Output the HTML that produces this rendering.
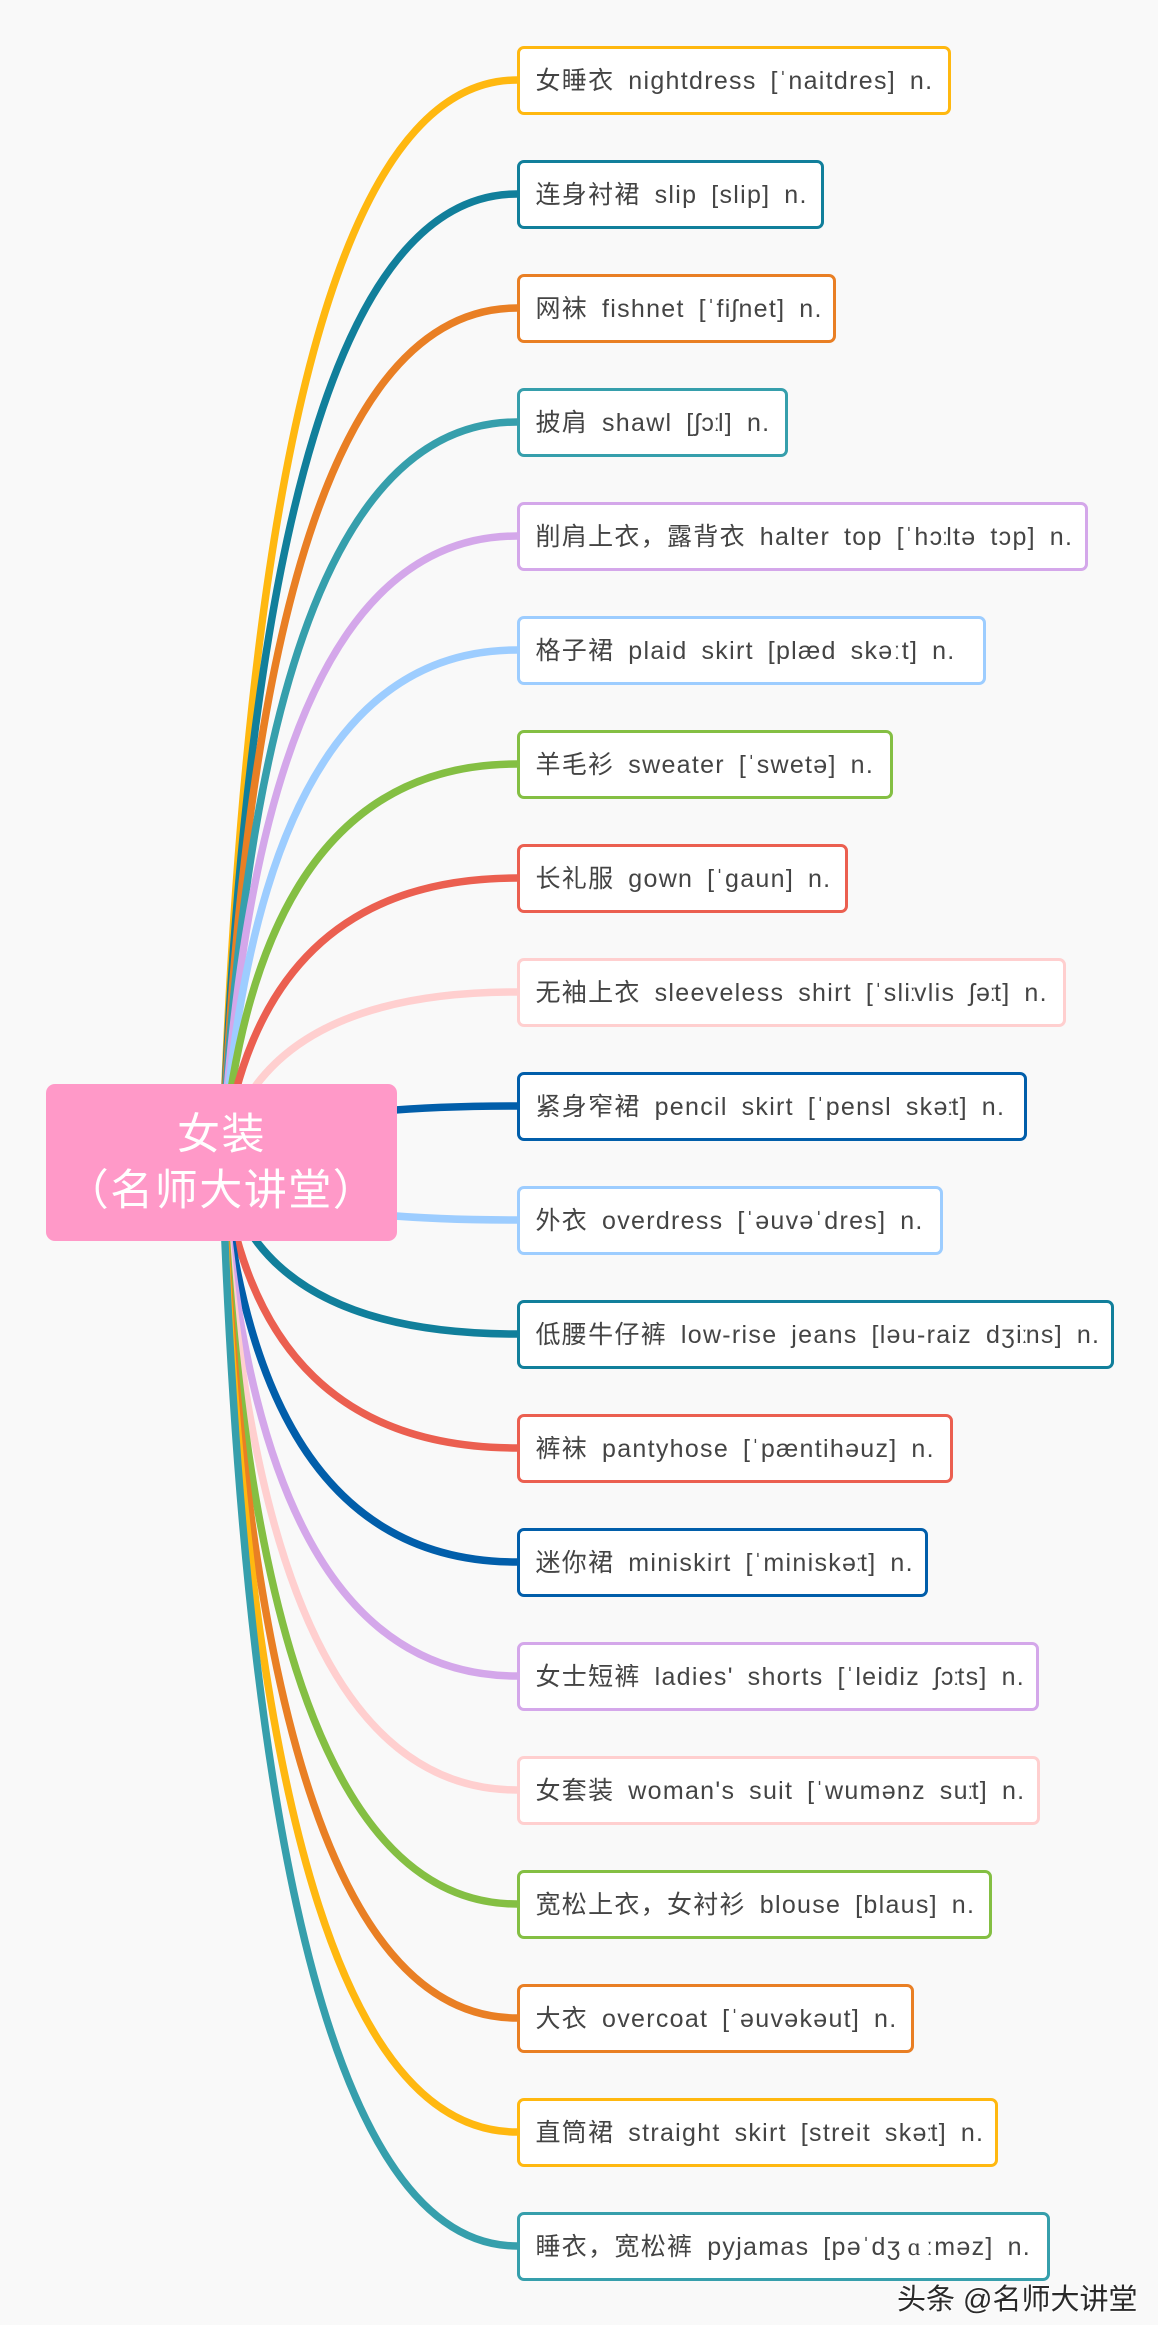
<!DOCTYPE html>
<html><head><meta charset="utf-8">
<style>
html,body{margin:0;padding:0;background:#fff;}
#page{position:relative;width:1165px;height:2340px;overflow:hidden;background:#fff;font-family:"Liberation Sans","Noto Sans CJK SC",sans-serif;}
#bg{position:absolute;left:0;top:0;width:1158px;height:2325px;background:#f9f9f9;}
svg{position:absolute;left:0;top:0;}
.b{position:absolute;left:517px;height:69px;box-sizing:border-box;border:3px solid;border-radius:7px;background:#fff;color:#444;font-size:25px;letter-spacing:1.3px;word-spacing:-1.3px;line-height:65px;padding-left:15.5px;white-space:pre;overflow:hidden;}
.a{font-family:"Liberation Serif",serif;margin:0 4px 0 6px;}
.c{margin-left:-2px;margin-right:-3.5px;}
#root{position:absolute;left:46px;top:1084px;width:351px;height:157px;background:#ff99c8;border-radius:9px;color:#fff;font-size:43px;letter-spacing:1.5px;line-height:56px;text-align:center;box-sizing:border-box;padding-top:23px;}
#wm{position:absolute;left:897px;top:2280px;font-size:29px;line-height:40px;color:#2a2a2a;white-space:pre;text-shadow:1px 1px 0 #fff,-1px -1px 0 #fff;}
</style></head><body>
<div id="page">
<div id="bg"></div>
<svg width="1165" height="2340" fill="none" stroke-width="7.5">
<path d="M222 1163Q258 80 517 80" stroke="#ffb810"/>
<path d="M222 1163Q258 194 517 194" stroke="#117f9b"/>
<path d="M222 1163Q258 308 517 308" stroke="#e97f24"/>
<path d="M222 1163Q258 422 517 422" stroke="#369fac"/>
<path d="M222 1163Q258 536 517 536" stroke="#d4a7ea"/>
<path d="M222 1163Q258 650 517 650" stroke="#9dcdff"/>
<path d="M222 1163Q258 764 517 764" stroke="#84bf43"/>
<path d="M222 1163Q258 878 517 878" stroke="#eb5f50"/>
<path d="M222 1163Q258 992 517 992" stroke="#ffcfcf"/>
<path d="M222 1163Q258 1106 517 1106" stroke="#015eaa"/>
<path d="M222 1163Q258 1220 517 1220" stroke="#9dcdff"/>
<path d="M222 1163Q258 1334 517 1334" stroke="#117f9b"/>
<path d="M222 1163Q258 1448 517 1448" stroke="#eb5f50"/>
<path d="M222 1163Q258 1562 517 1562" stroke="#015eaa"/>
<path d="M222 1163Q258 1676 517 1676" stroke="#d4a7ea"/>
<path d="M222 1163Q258 1790 517 1790" stroke="#ffcfcf"/>
<path d="M222 1163Q258 1904 517 1904" stroke="#84bf43"/>
<path d="M222 1163Q258 2018 517 2018" stroke="#e97f24"/>
<path d="M222 1163Q258 2132 517 2132" stroke="#ffb810"/>
<path d="M222 1163Q258 2246 517 2246" stroke="#369fac"/>
</svg>
<div class="b" style="top:46px;width:434px;border-color:#ffb810">女睡衣  nightdress  [ˈnaitdres]  n.</div>
<div class="b" style="top:160px;width:307px;border-color:#117f9b">连身衬裙  slip  [slip]  n.</div>
<div class="b" style="top:274px;width:319px;border-color:#e97f24">网袜  fishnet  [ˈfiʃnet]  n.</div>
<div class="b" style="top:388px;width:271px;border-color:#369fac">披肩  shawl  [ʃɔ<span class="c">ː</span>l]  n.</div>
<div class="b" style="top:502px;width:571px;border-color:#d4a7ea">削肩上衣，露背衣  halter  top  [ˈhɔ<span class="c">ː</span>ltə  tɔp]  n.</div>
<div class="b" style="top:616px;width:469px;border-color:#9dcdff">格子裙  plaid  skirt  [plæd  skəːt]  n.</div>
<div class="b" style="top:730px;width:376px;border-color:#84bf43">羊毛衫  sweater  [ˈswetə]  n.</div>
<div class="b" style="top:844px;width:331px;border-color:#eb5f50">长礼服  gown  [ˈgaun]  n.</div>
<div class="b" style="top:958px;width:549px;border-color:#ffcfcf">无袖上衣  sleeveless  shirt  [ˈsli<span class="c">ː</span>vlis  ʃə<span class="c">ː</span>t]  n.</div>
<div class="b" style="top:1072px;width:510px;border-color:#015eaa">紧身窄裙  pencil  skirt  [ˈpensl  skə<span class="c">ː</span>t]  n.</div>
<div class="b" style="top:1186px;width:426px;border-color:#9dcdff">外衣  overdress  [ˈəuvəˈdres]  n.</div>
<div class="b" style="top:1300px;width:597px;border-color:#117f9b">低腰牛仔裤  low-rise  jeans  [ləu-raiz  dʒi<span class="c">ː</span>ns]  n.</div>
<div class="b" style="top:1414px;width:436px;border-color:#eb5f50">裤袜  pantyhose  [ˈpæntihəuz]  n.</div>
<div class="b" style="top:1528px;width:411px;border-color:#015eaa">迷你裙  miniskirt  [ˈminiskə<span class="c">ː</span>t]  n.</div>
<div class="b" style="top:1642px;width:522px;border-color:#d4a7ea">女士短裤  ladies'  shorts  [ˈleidiz  ʃɔ<span class="c">ː</span>ts]  n.</div>
<div class="b" style="top:1756px;width:523px;border-color:#ffcfcf">女套装  woman's  suit  [ˈwumənz  su<span class="c">ː</span>t]  n.</div>
<div class="b" style="top:1870px;width:475px;border-color:#84bf43">宽松上衣，女衬衫  blouse  [blaus]  n.</div>
<div class="b" style="top:1984px;width:397px;border-color:#e97f24">大衣  overcoat  [ˈəuvəkəut]  n.</div>
<div class="b" style="top:2098px;width:481px;border-color:#ffb810">直筒裙  straight  skirt  [streit  skə<span class="c">ː</span>t]  n.</div>
<div class="b" style="top:2212px;width:533px;border-color:#369fac">睡衣，宽松裤  pyjamas  [pəˈdʒ<span class="a">ɑ</span>ːməz]  n.</div>
<div id="root">女装<br>（名师大讲堂）</div>
<div id="wm">头条 @名师大讲堂</div>
</div>
</body></html>
